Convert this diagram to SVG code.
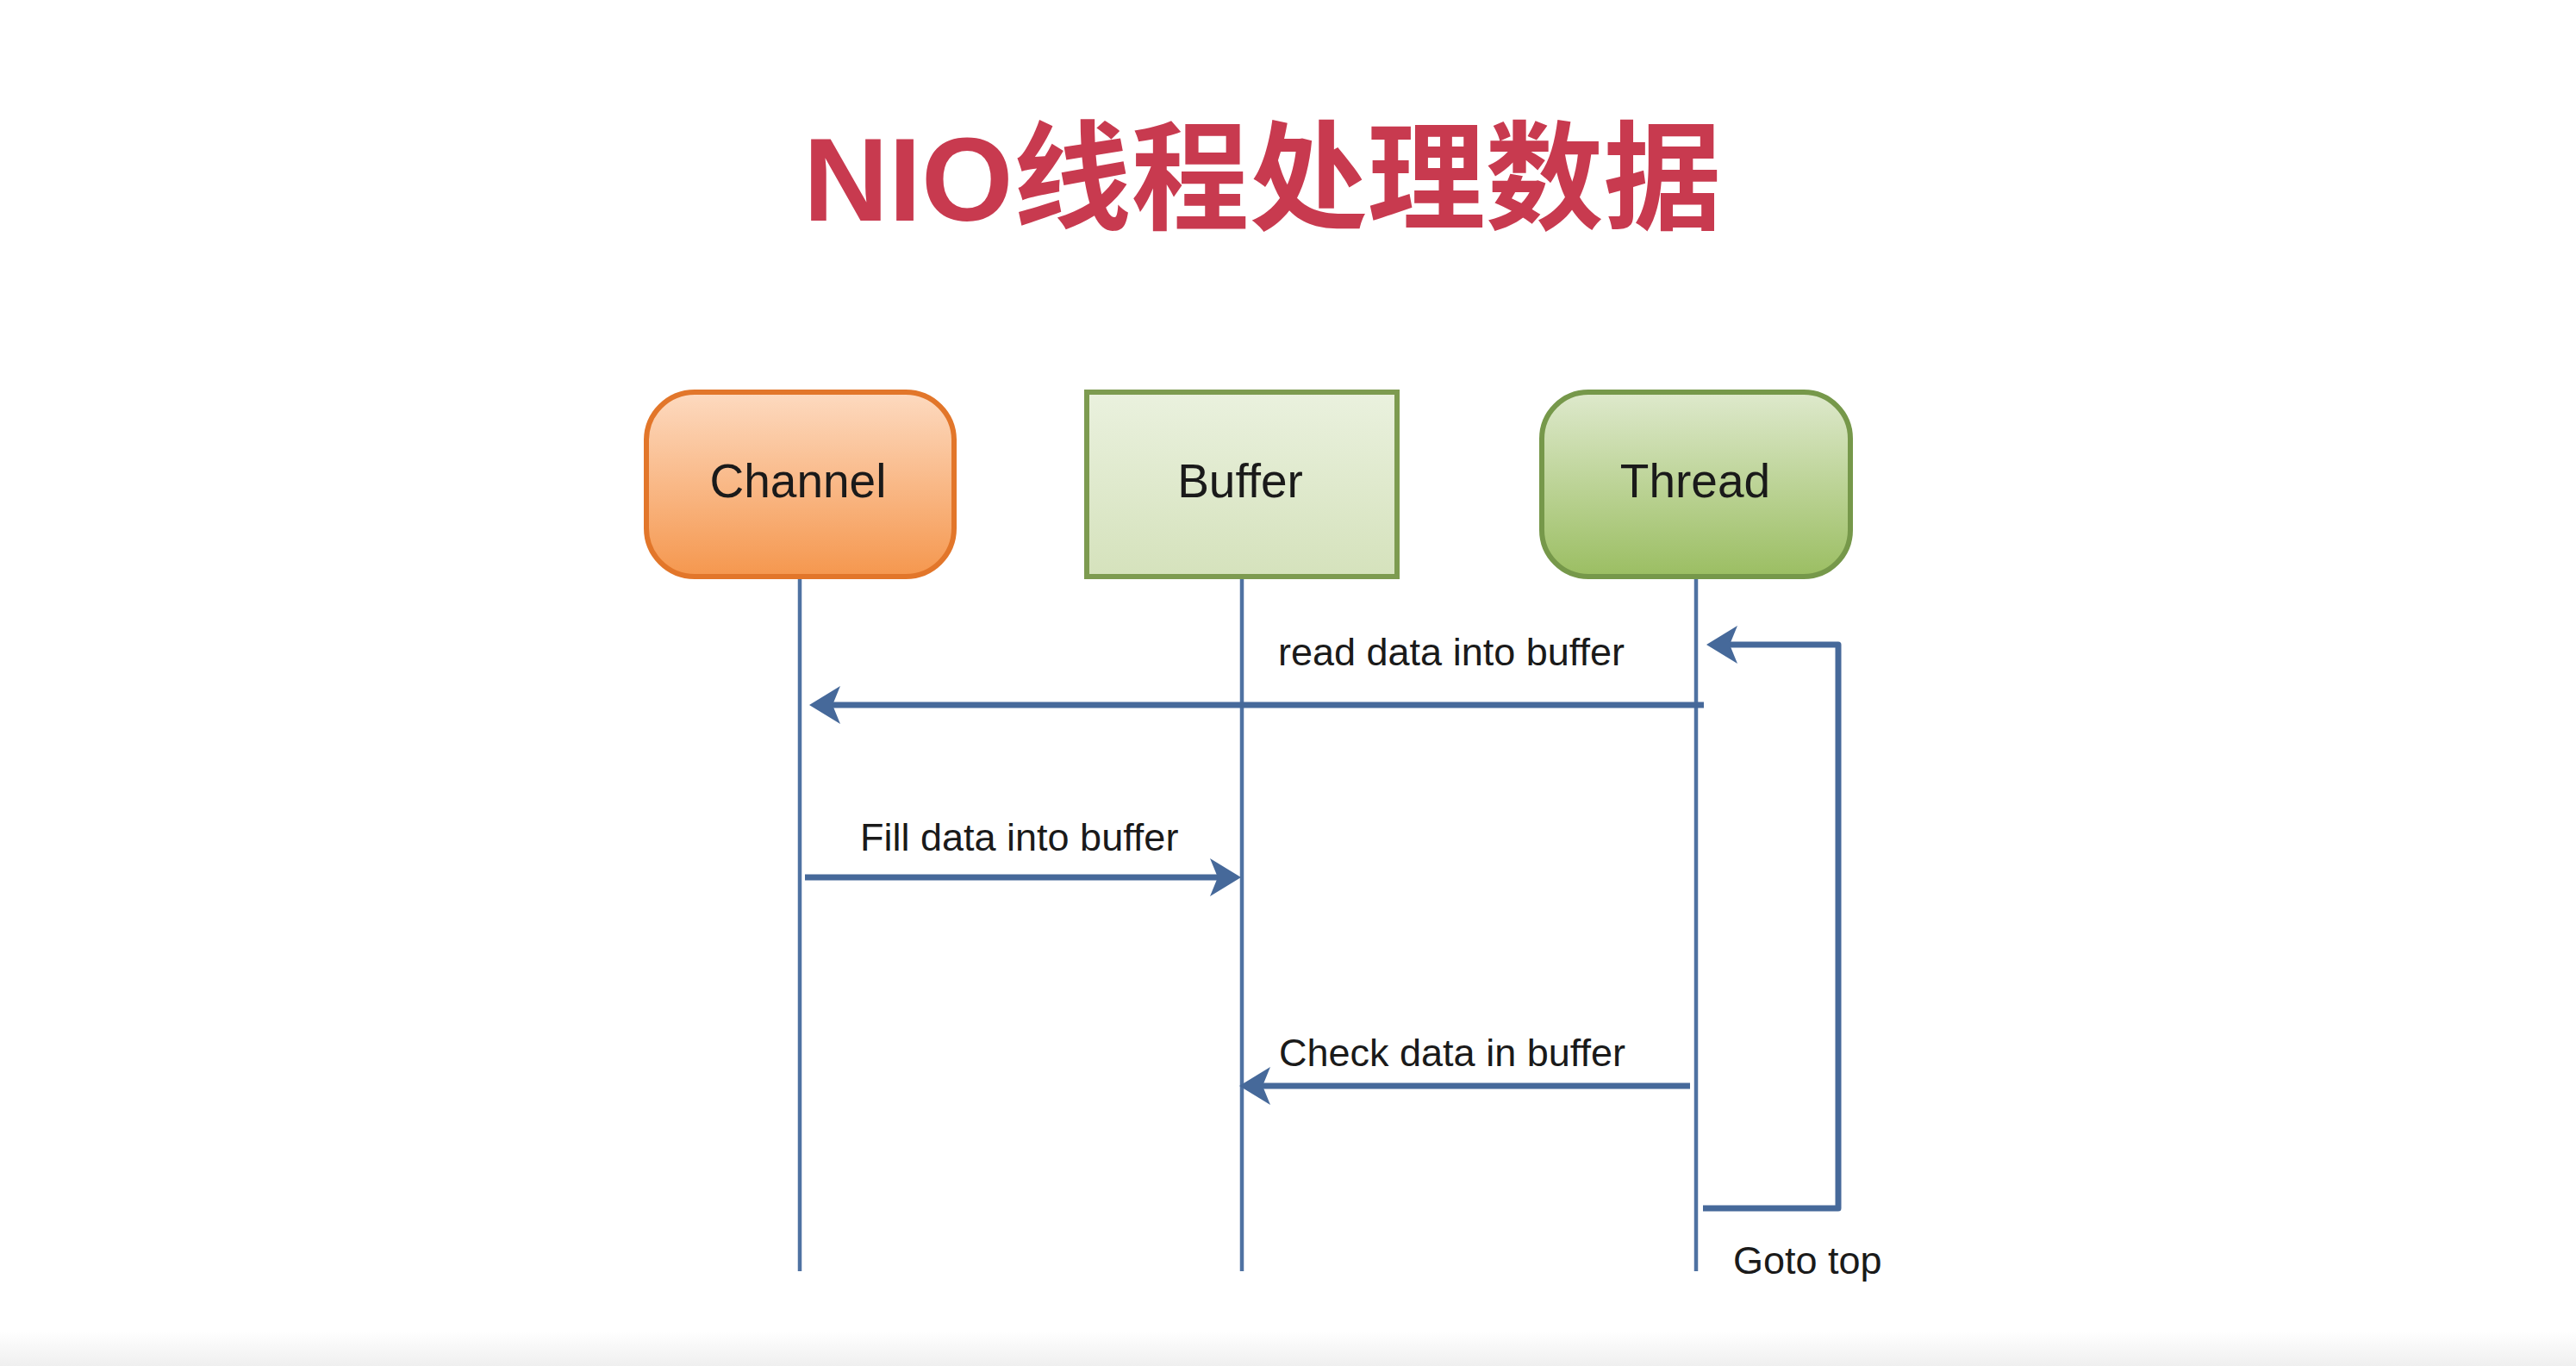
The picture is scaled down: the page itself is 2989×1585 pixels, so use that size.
<svg xmlns="http://www.w3.org/2000/svg" width="2989" height="1585" viewBox="0 0 2989 1585">
  <style>
    .title { font-family: "Liberation Sans", "Noto Sans CJK SC", sans-serif; font-weight: bold; font-size: 137px; fill: #C83A4F; }
    .node-label { font-family: "Liberation Sans", Arial, sans-serif; font-size: 55px; fill: #1A1A1A; text-anchor: middle; }
    .msg-label { font-family: "Liberation Sans", Arial, sans-serif; font-size: 45px; fill: #1A1A1A; }
    .lifeline { stroke: #4F72A2; stroke-width: 4.5; fill: none; }
    .msg { stroke: #46699A; stroke-width: 7; fill: none; stroke-linejoin: round; }
  </style>
  <defs>
    <linearGradient id="gOrange" x1="0" y1="0" x2="0" y2="1">
      <stop offset="0" stop-color="#FDDAC0"/>
      <stop offset="1" stop-color="#F5974E"/>
    </linearGradient>
    <linearGradient id="gLight" x1="0" y1="0" x2="0" y2="1">
      <stop offset="0" stop-color="#EAF1DE"/>
      <stop offset="1" stop-color="#D5E2BC"/>
    </linearGradient>
    <linearGradient id="gGreen" x1="0" y1="0" x2="0" y2="1">
      <stop offset="0" stop-color="#DEE9CC"/>
      <stop offset="1" stop-color="#9BBE62"/>
    </linearGradient>
    <linearGradient id="gFloor" x1="0" y1="0" x2="0" y2="1">
      <stop offset="0" stop-color="#FFFFFF"/>
      <stop offset="1" stop-color="#EFEFEF"/>
    </linearGradient>
    <marker id="arrow" markerUnits="userSpaceOnUse" markerWidth="40" markerHeight="46" refX="9" refY="22" orient="auto">
      <path d="M0,0 L36,22 L0,44 L9,22 Z" fill="#46699A"/>
    </marker>
  </defs>

  <rect x="0" y="0" width="2989" height="1585" fill="#FFFFFF"/>
  <rect x="0" y="1545" width="2989" height="40" fill="url(#gFloor)"/>

  <text class="title" x="932" y="256">NIO线程处理数据</text>

  <g id="connectors">
    <line class="lifeline" x1="928" y1="669" x2="928" y2="1475"/>
    <line class="lifeline" x1="1441" y1="669" x2="1441" y2="1475"/>
    <line class="lifeline" x1="1968" y1="669" x2="1968" y2="1475"/>

    <g id="msg-read">
      <line class="msg" x1="1977" y1="818" x2="966" y2="818" marker-end="url(#arrow)"/>
      <text class="msg-label" x="1483" y="772">read data into buffer</text>
    </g>
    <g id="msg-fill">
      <line class="msg" x1="934" y1="1018" x2="1413" y2="1018" marker-end="url(#arrow)"/>
      <text class="msg-label" x="998" y="987">Fill data into buffer</text>
    </g>
    <g id="msg-check">
      <line class="msg" x1="1961" y1="1260" x2="1465" y2="1260" marker-end="url(#arrow)"/>
      <text class="msg-label" x="1484" y="1237">Check data in buffer</text>
    </g>
    <g id="msg-goto">
      <path class="msg" d="M1976,1402 H2133 V748 H2007" marker-end="url(#arrow)"/>
      <text class="msg-label" x="2011" y="1478">Goto top</text>
    </g>
  </g>

  <g id="node-channel">
    <rect x="750" y="455" width="357" height="214" rx="56" ry="56" fill="url(#gOrange)" stroke="#E2762A" stroke-width="6"/>
    <text class="node-label" x="926" y="577">Channel</text>
  </g>
  <g id="node-buffer">
    <rect x="1261" y="455" width="360" height="214" fill="url(#gLight)" stroke="#7D9B50" stroke-width="6"/>
    <text class="node-label" x="1439" y="577">Buffer</text>
  </g>
  <g id="node-thread">
    <rect x="1789" y="455" width="358" height="214" rx="54" ry="54" fill="url(#gGreen)" stroke="#76984A" stroke-width="6"/>
    <text class="node-label" x="1967" y="577">Thread</text>
  </g>
</svg>
